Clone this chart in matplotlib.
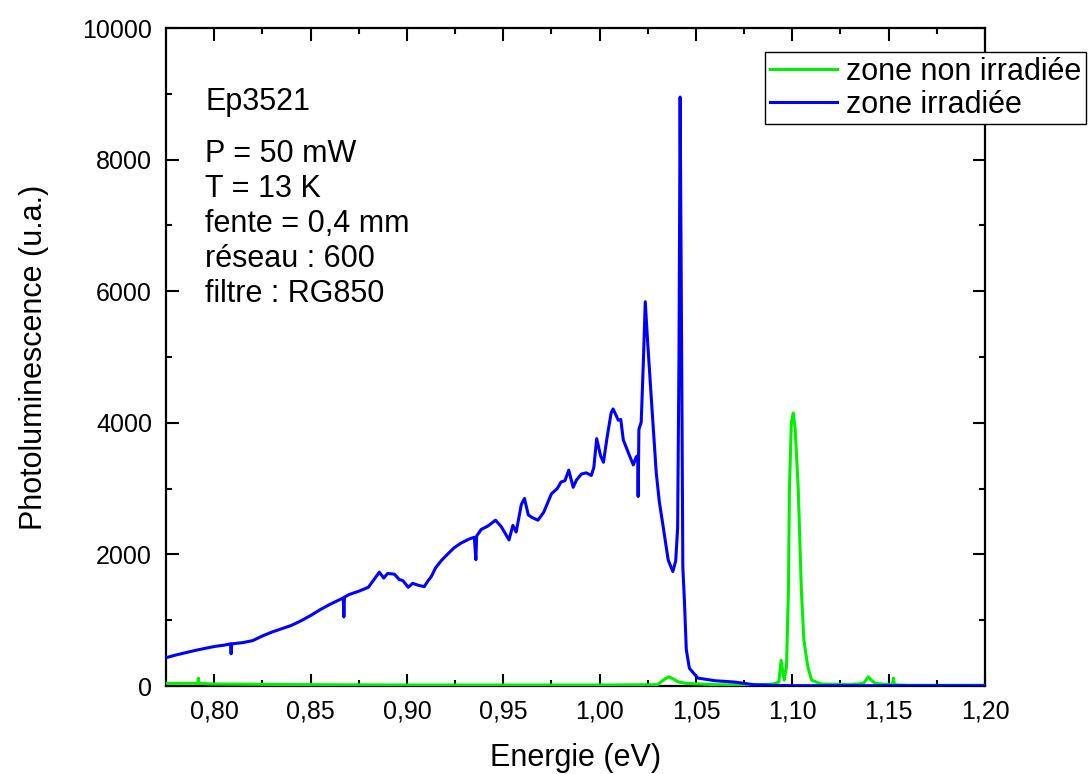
import matplotlib
matplotlib.use("Agg")
from matplotlib import pyplot as plt

plt.rcParams['font.family'] = ['Liberation Sans', 'DejaVu Sans']

# zone irradiee (blue)
E_irr = [0.775, 0.780, 0.790, 0.800, 0.805, 0.8085, 0.8088, 0.8091, 0.815, 0.820,
         0.825, 0.830, 0.835, 0.840, 0.845, 0.850, 0.855, 0.860, 0.865, 0.8670,
         0.8673, 0.8676, 0.870, 0.875, 0.880, 0.883, 0.8857, 0.888, 0.890, 0.8935,
         0.896, 0.898, 0.9007, 0.903, 0.906, 0.909, 0.911, 0.9126, 0.915, 0.918,
         0.921, 0.9245, 0.928, 0.932, 0.935, 0.9358, 0.9362, 0.9386, 0.942, 0.946,
         0.949, 0.951, 0.953, 0.955, 0.9567, 0.9594, 0.961, 0.963, 0.965, 0.968,
         0.971, 0.975, 0.978, 0.980, 0.982, 0.984, 0.9863, 0.988, 0.9905, 0.993,
         0.9957, 0.997, 0.9985, 1.0005, 1.002, 1.004, 1.006, 1.007, 1.008, 1.0097,
         1.011, 1.0123, 1.015, 1.0175, 1.019, 1.0198, 1.0200, 1.0204, 1.0216, 1.0228,
         1.0237, 1.0250, 1.0268, 1.0294, 1.031, 1.033, 1.0356, 1.038, 1.0395, 1.0405,
         1.0412, 1.0418, 1.0426, 1.0432, 1.044, 1.045, 1.0466, 1.051, 1.060, 1.070,
         1.080, 1.090, 1.100, 1.150, 1.200]
I_irr = [430, 470, 540, 600, 620, 640, 490, 640, 660, 690,
         760, 820, 870, 920, 990, 1070, 1160, 1240, 1310, 1340,
         1050, 1350, 1390, 1440, 1500, 1620, 1730, 1640, 1710, 1700,
         1620, 1600, 1500, 1560, 1530, 1510, 1600, 1660, 1800, 1910,
         2000, 2100, 2170, 2230, 2260, 1920, 2280, 2380, 2430, 2520,
         2420, 2320, 2220, 2440, 2340, 2760, 2850, 2600, 2560, 2520,
         2640, 2920, 3000, 3100, 3120, 3280, 3020, 3130, 3220, 3240,
         3200, 3320, 3760, 3500, 3400, 3800, 4150, 4210, 4150, 4040,
         4050, 3740, 3540, 3360, 3480, 3500, 2880, 3900, 4010, 5000,
         5840, 5200, 4390, 3240, 2800, 2420, 1915, 1740, 1900, 2400,
         5000, 8950, 5000, 1800, 1310, 550, 270, 120, 80, 60,
         20, 10, 5, 5, 5]

# zone non irradiee (green)
E_non = [0.775, 0.790, 0.7915, 0.7918, 0.7921, 0.800, 0.850, 0.900, 0.950, 1.000,
         1.030, 1.034, 1.036, 1.038, 1.041, 1.045, 1.060, 1.080, 1.090, 1.093,
         1.0942, 1.0952, 1.0958, 1.0970, 1.098, 1.0985, 1.0995, 1.1005, 1.1015, 1.1031,
         1.1047, 1.106, 1.108, 1.110, 1.115, 1.130, 1.137, 1.1394, 1.141, 1.143,
         1.150, 1.1520, 1.1525, 1.1530, 1.160, 1.200]
I_non = [40, 40, 40, 120, 40, 30, 20, 15, 15, 15,
         20, 110, 140, 110, 60, 40, 20, 15, 30, 60,
         390, 200, 90, 300, 1460, 2980, 4000, 4150, 3900, 2980,
         1460, 700, 300, 90, 30, 20, 40, 140, 90, 40,
         20, 20, 120, 20, 10, 10]

x_ticks = [0.80, 0.85, 0.90, 0.95, 1.00, 1.05, 1.10, 1.15, 1.20]
x_tick_labels = ['0,80', '0,85', '0,90', '0,95', '1,00', '1,05', '1,10', '1,15', '1,20']
y_ticks = [0, 2000, 4000, 6000, 8000, 10000]

info_lines = ['P = 50 mW', 'T = 13 K', 'fente = 0,4 mm', 'réseau : 600', 'filtre : RG850']

W, H = 1092, 774
fig = plt.figure(figsize=(W / 100, H / 100), dpi=100)
ax = fig.add_axes([166 / W, 1 - 686 / H, (985 - 166) / W, (686 - 28) / H])

ax.plot(E_non, I_non, color='#00f000', lw=2.2, label='zone non irradiée', zorder=3)
ax.plot(E_irr, I_irr, color='#0000ff', lw=2.2, label='zone irradiée', zorder=3)

ax.set_xlim(0.775, 1.20)
ax.set_ylim(0, 10000)
ax.set_xticks(x_ticks)
ax.set_xticklabels(x_tick_labels)
ax.set_xticks([0.825, 0.875, 0.925, 0.975, 1.025, 1.075, 1.125, 1.175], minor=True)
ax.set_yticks(y_ticks)
ax.set_yticks([1000, 3000, 5000, 7000, 9000], minor=True)
ax.tick_params(which='both', direction='in', top=True, right=True, width=1.5, labelsize=18, pad=10)
ax.tick_params(which='major', length=9)
ax.tick_params(which='minor', length=4.5)
for s in ax.spines.values():
    s.set_linewidth(1.6)

ax.set_xlabel('Energie (eV)', fontsize=22, labelpad=14)
ax.set_ylabel('Photoluminescence (u.a.)', fontsize=22, labelpad=24)

fig.text(205 / W, 1 - 110 / H, 'Ep3521', fontsize=22, va='baseline')
baselines = [162, 197, 232, 267, 302]
for txt, yb in zip(info_lines, baselines):
    fig.text(205 / W, 1 - yb / H, txt, fontsize=22, va='baseline')

leg = ax.legend(loc='upper left', bbox_to_anchor=(765 / W, 1 - 52 / H),
                bbox_transform=fig.transFigure, fontsize=22, frameon=True,
                fancybox=False, edgecolor='black', framealpha=1, borderaxespad=0,
                borderpad=0.15, handlelength=2.2, handletextpad=0.3, labelspacing=0.1)
leg.get_frame().set_linewidth(1.0)

fig.savefig('out.png', dpi=100)
